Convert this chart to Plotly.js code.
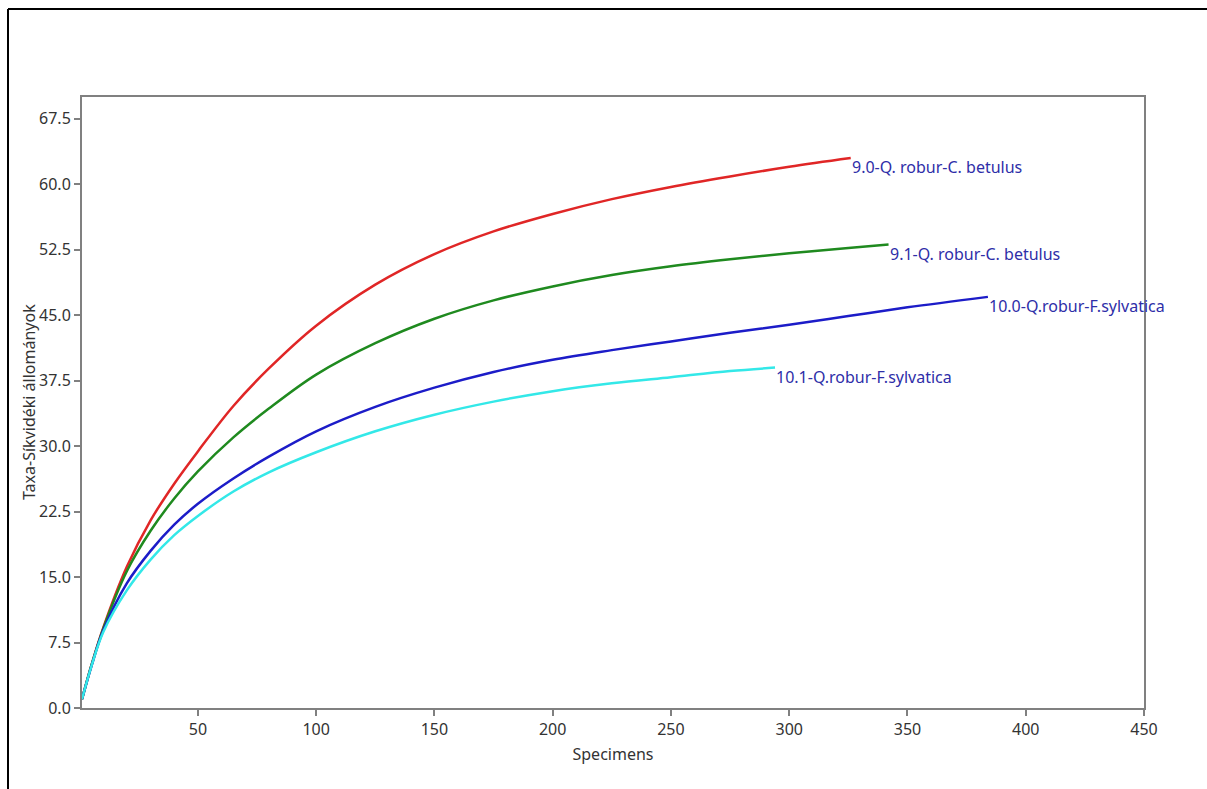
<!DOCTYPE html>
<html>
<head>
<meta charset="utf-8">
<script src="https://cdn.plot.ly/plotly-3.0.1.min.js"></script>
<style>
  html, body { margin: 0; padding: 0; background: #fff; }
  #chart { width: 1207px; height: 789px; }
</style>
</head>
<body>
<div id="chart"></div>
<script>
// ---- Data ----
var seriesNames = [
  "9.0-Q. robur-C. betulus",
  "9.1-Q. robur-C. betulus",
  "10.0-Q.robur-F.sylvatica",
  "10.1-Q.robur-F.sylvatica"
];
var seriesColors = ["#e02626", "#1f8a1f", "#1c1cc8", "#33e8e8"];

var n90 = [1, 5, 10, 20, 30, 40, 50, 65, 80, 100, 125, 150, 175, 200, 225, 250, 275, 300, 326];
var s90 = [1, 4.9, 9.2, 16.2, 21.5, 25.7, 29.4, 34.6, 38.9, 43.8, 48.5, 52.0, 54.6, 56.6, 58.3, 59.7, 60.9, 62.0, 63.0];

var n91 = [1, 5, 10, 20, 30, 40, 50, 65, 80, 100, 125, 150, 175, 200, 225, 250, 275, 300, 325, 342];
var s91 = [1, 4.9, 9.1, 15.7, 20.3, 24.0, 27.1, 31.0, 34.3, 38.2, 41.8, 44.6, 46.7, 48.3, 49.6, 50.6, 51.4, 52.1, 52.7, 53.1];

var n100 = [1, 5, 10, 20, 30, 40, 50, 65, 80, 100, 125, 150, 175, 200, 225, 250, 275, 300, 325, 350, 384];
var s100 = [1, 4.8, 8.9, 14.3, 18.0, 21.0, 23.4, 26.3, 28.8, 31.7, 34.5, 36.7, 38.5, 39.9, 41.0, 42.0, 43.0, 43.9, 44.9, 45.9, 47.1];

var n101 = [1, 5, 10, 20, 30, 40, 50, 65, 80, 100, 125, 150, 175, 200, 225, 250, 275, 294];
var s101 = [1, 4.8, 8.7, 13.5, 17.0, 19.8, 22.0, 24.8, 27.0, 29.3, 31.7, 33.6, 35.1, 36.3, 37.2, 37.9, 38.6, 39.0];

var xTickLabels = ["50", "100", "150", "200", "250", "300", "350", "400", "450"];
var xTickVals = [50, 100, 150, 200, 250, 300, 350, 400, 450];

var xTitle = "Specimens";
var yTitle = "Taxa-Síkvidéki állományok";

var xs = [n90, n91, n100, n101];
var ys = [s90, s91, s100, s101];

var FONT = "'Noto Sans', 'Open Sans', sans-serif";
var FS = 16;

var traces = xs.map(function (x, i) {
  return {
    x: x, y: ys[i], type: "scatter", mode: "lines",
    name: seriesNames[i],
    line: { color: seriesColors[i], width: 2.5, shape: "spline", smoothing: 1 },
    hoverinfo: "x+y+name"
  };
});

var L = 82, R = 63, T = 97, B = 81, W = 1207, H = 789;
var pw = W - L - R, ph = H - T - B;
function px2x(p) { return (p - L) / pw; }
function py2y(p) { return (H - B - p) / ph; }

var annotations = xs.map(function (x, i) {
  return {
    x: x[x.length - 1], y: ys[i][ys[i].length - 1],
    xref: "x", yref: "y",
    text: seriesNames[i],
    showarrow: false,
    xanchor: "left", yanchor: "middle",
    yshift: -9, xshift: -1,
    font: { family: FONT, size: FS, color: "#2e2ea8" }
  };
});
annotations.push({
  xref: "paper", yref: "paper",
  x: px2x(29), y: py2y(402),
  text: yTitle, textangle: -90,
  showarrow: false, xanchor: "center", yanchor: "middle",
  font: { family: FONT, size: FS, color: "#333333" }
});

var layout = {
  width: W, height: H,
  margin: { l: L, r: R, t: T, b: B, pad: 0 },
  paper_bgcolor: "#ffffff",
  plot_bgcolor: "#ffffff",
  showlegend: false,
  font: { family: FONT, size: FS, color: "#333333" },
  xaxis: {
    range: [1, 450],
    tickvals: xTickVals, ticktext: xTickLabels,
    ticks: "outside", ticklen: 6, tickwidth: 2, tickcolor: "#808080",
    showline: true, linecolor: "#808080", linewidth: 2, mirror: true,
    showgrid: false, zeroline: false,
    tickfont: { family: FONT, size: FS, color: "#333333" },
    title: { text: xTitle, standoff: 10, font: { family: FONT, size: FS, color: "#333333" } }
  },
  yaxis: {
    range: [0, 70],
    tick0: 0, dtick: 7.5, tickformat: ".1f",
    ticks: "outside", ticklen: 6, tickwidth: 2, tickcolor: "#808080",
    showline: true, linecolor: "#808080", linewidth: 2, mirror: true,
    showgrid: false, zeroline: false,
    tickfont: { family: FONT, size: FS, color: "#333333" }
  },
  annotations: annotations,
  shapes: [
    { type: "line", xref: "paper", yref: "paper", x0: px2x(8), x1: px2x(1210), y0: py2y(9), y1: py2y(9), line: { color: "#000000", width: 2 } },
    { type: "line", xref: "paper", yref: "paper", x0: px2x(8), x1: px2x(8), y0: py2y(9), y1: py2y(792), line: { color: "#000000", width: 2 } }
  ]
};

Plotly.newPlot("chart", traces, layout, { displayModeBar: false });
</script>
</body>
</html>
